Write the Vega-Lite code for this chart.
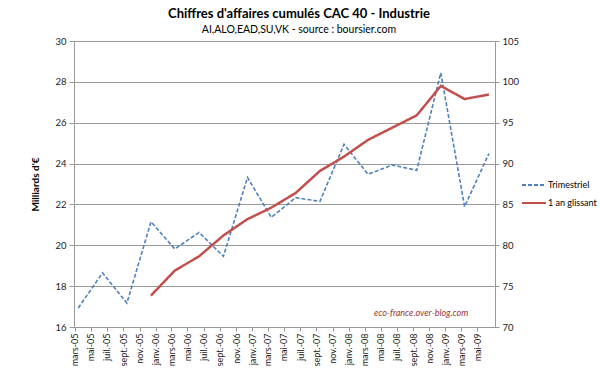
{
  "$schema": "https://vega.github.io/schema/vega-lite/v6.json",
  "width": 421,
  "height": 286,
  "autosize": {"type": "none"},
  "padding": {"left": 74, "top": 41, "right": 105, "bottom": 54},
  "background": "white",
  "title": {
    "text": "Chiffres d'affaires cumulés CAC 40 - Industrie",
    "subtitle": "AI,ALO,EAD,SU,VK - source : boursier.com",
    "anchor": "middle",
    "dx": 14.5,
    "offset": 1,
    "font": "Lato",
    "fontSize": 13,
    "fontWeight": "bold",
    "color": "#000000",
    "subtitleFont": "Lato",
    "subtitleFontSize": 10.5,
    "subtitleColor": "#000000",
    "subtitlePadding": 4
  },
  "config": {
    "view": {"stroke": null},
    "font": "Lato"
  },
  "data": {
    "values": [
      {"mois": "2005-03-01", "serie": "Trimestriel", "valeur": 16.93},
      {"mois": "2005-06-01", "serie": "Trimestriel", "valeur": 18.65},
      {"mois": "2005-09-01", "serie": "Trimestriel", "valeur": 17.17},
      {"mois": "2005-12-01", "serie": "Trimestriel", "valeur": 21.15},
      {"mois": "2006-03-01", "serie": "Trimestriel", "valeur": 19.82},
      {"mois": "2006-06-01", "serie": "Trimestriel", "valeur": 20.63},
      {"mois": "2006-09-01", "serie": "Trimestriel", "valeur": 19.46},
      {"mois": "2006-12-01", "serie": "Trimestriel", "valeur": 23.32},
      {"mois": "2007-03-01", "serie": "Trimestriel", "valeur": 21.37},
      {"mois": "2007-06-01", "serie": "Trimestriel", "valeur": 22.33},
      {"mois": "2007-09-01", "serie": "Trimestriel", "valeur": 22.15},
      {"mois": "2007-12-01", "serie": "Trimestriel", "valeur": 24.94},
      {"mois": "2008-03-01", "serie": "Trimestriel", "valeur": 23.48},
      {"mois": "2008-06-01", "serie": "Trimestriel", "valeur": 23.93},
      {"mois": "2008-09-01", "serie": "Trimestriel", "valeur": 23.67},
      {"mois": "2008-12-01", "serie": "Trimestriel", "valeur": 28.44},
      {"mois": "2009-03-01", "serie": "Trimestriel", "valeur": 21.89},
      {"mois": "2009-06-01", "serie": "Trimestriel", "valeur": 24.49},
      {"mois": "2005-12-01", "serie": "1 an glissant", "valeur": 73.85},
      {"mois": "2006-03-01", "serie": "1 an glissant", "valeur": 76.9},
      {"mois": "2006-06-01", "serie": "1 an glissant", "valeur": 78.65},
      {"mois": "2006-09-01", "serie": "1 an glissant", "valeur": 81.2},
      {"mois": "2006-12-01", "serie": "1 an glissant", "valeur": 83.2},
      {"mois": "2007-03-01", "serie": "1 an glissant", "valeur": 84.6},
      {"mois": "2007-06-01", "serie": "1 an glissant", "valeur": 86.4},
      {"mois": "2007-09-01", "serie": "1 an glissant", "valeur": 89.1},
      {"mois": "2007-12-01", "serie": "1 an glissant", "valeur": 90.85},
      {"mois": "2008-03-01", "serie": "1 an glissant", "valeur": 92.9},
      {"mois": "2008-06-01", "serie": "1 an glissant", "valeur": 94.4},
      {"mois": "2008-09-01", "serie": "1 an glissant", "valeur": 95.9},
      {"mois": "2008-12-01", "serie": "1 an glissant", "valeur": 99.5},
      {"mois": "2009-03-01", "serie": "1 an glissant", "valeur": 97.9},
      {"mois": "2009-06-01", "serie": "1 an glissant", "valeur": 98.45}
    ]
  },
  "encoding": {
    "x": {
      "field": "mois",
      "type": "temporal",
      "title": null,
      "scale": {
        "type": "utc",
        "domain": [
          {"year": 2005, "month": 2, "date": 13, "utc": true},
          {"year": 2009, "month": 6, "date": 24, "utc": true}
        ]
      },
      "axis": {
        "tickCount": {"interval": "month", "step": 2},
        "labelExpr": "['janv.','févr.','mars','avr.','mai','juin','juil.','août','sept.','oct.','nov.','déc.'][utcmonth(datum.value)] + '-' + utcFormat(datum.value, '%y')",
        "labelAngle": -90,
        "labelFontSize": 9,
        "labelColor": "#222222",
        "labelPadding": 2,
        "labelOverlap": false,
        "labelFlush": false,
        "labelBound": false,
        "tickSize": 4,
        "tickOffset": -3.5,
        "tickColor": "#999999",
        "domainColor": "#999999",
        "grid": false
      }
    }
  },
  "layer": [
    {
      "layer": [
        {
          "transform": [{"filter": "datum.serie === 'Trimestriel'"}],
          "mark": {"type": "line", "strokeWidth": 1.6},
          "encoding": {
            "y": {
              "field": "valeur",
              "type": "quantitative",
              "scale": {"domain": [16, 30], "nice": false, "zero": false},
              "axis": {
                "orient": "left",
                "values": [16, 18, 20, 22, 24, 26, 28, 30],
                "grid": true,
                "gridColor": "#999999",
                "gridWidth": 1,
                "domainColor": "#999999",
                "tickColor": "#999999",
                "tickSize": 5,
                "labelPadding": 3,
                "labelFontSize": 9.5,
                "labelColor": "#222222",
                "title": "Milliards d'€",
                "titleFontSize": 10,
                "titleFontWeight": "bold",
                "titleColor": "#000000",
                "titlePadding": 14
              }
            },
            "color": {
              "field": "serie",
              "type": "nominal",
              "scale": {"domain": ["Trimestriel", "1 an glissant"], "range": ["#4F81BD", "#C0504D"]},
              "legend": {
                "title": null,
                "orient": "none",
                "legendX": 447,
                "legendY": 131,
                "symbolType": "stroke",
                "symbolSize": 576,
                "symbolStrokeWidth": 2,
                "labelFont": "Lato",
                "labelFontSize": 9,
                "labelColor": "#000000",
                "labelOffset": 1,
                "rowPadding": -2
              }
            },
            "strokeDash": {
              "field": "serie",
              "type": "nominal",
              "scale": {"domain": ["Trimestriel", "1 an glissant"], "range": [[4, 2], [1, 0]]},
              "legend": {
                "title": null,
                "orient": "none",
                "legendX": 447,
                "legendY": 131,
                "symbolType": "stroke",
                "symbolSize": 576,
                "symbolStrokeWidth": 2,
                "labelFont": "Lato",
                "labelFontSize": 9,
                "labelColor": "#000000",
                "labelOffset": 1,
                "rowPadding": -2
              }
            }
          }
        },
        {
          "data": {"values": [{"mois": "2009-03-15", "valeur": 16.68, "texte": "eco-france.over-blog.com"}]},
          "mark": {"type": "text", "align": "right", "baseline": "middle", "fontStyle": "italic", "fontSize": 9, "font": "Lato", "color": "#953735"},
          "encoding": {
            "y": {"field": "valeur", "type": "quantitative"},
            "text": {"field": "texte"}
          }
        }
      ]
    },
    {
      "transform": [{"filter": "datum.serie === '1 an glissant'"}],
      "mark": {"type": "line", "strokeWidth": 2.5},
      "encoding": {
        "y": {
          "field": "valeur",
          "type": "quantitative",
          "scale": {"domain": [70, 105], "nice": false, "zero": false},
          "axis": {
            "orient": "right",
            "values": [70, 75, 80, 85, 90, 95, 100, 105],
            "grid": false,
            "domainColor": "#999999",
            "tickColor": "#999999",
            "tickSize": 4,
            "labelPadding": 3,
            "labelFontSize": 9.5,
            "labelColor": "#222222",
            "title": null
          }
        },
        "color": {"field": "serie", "type": "nominal"},
        "strokeDash": {"field": "serie", "type": "nominal"}
      }
    }
  ],
  "resolve": {"scale": {"y": "independent"}}
}
